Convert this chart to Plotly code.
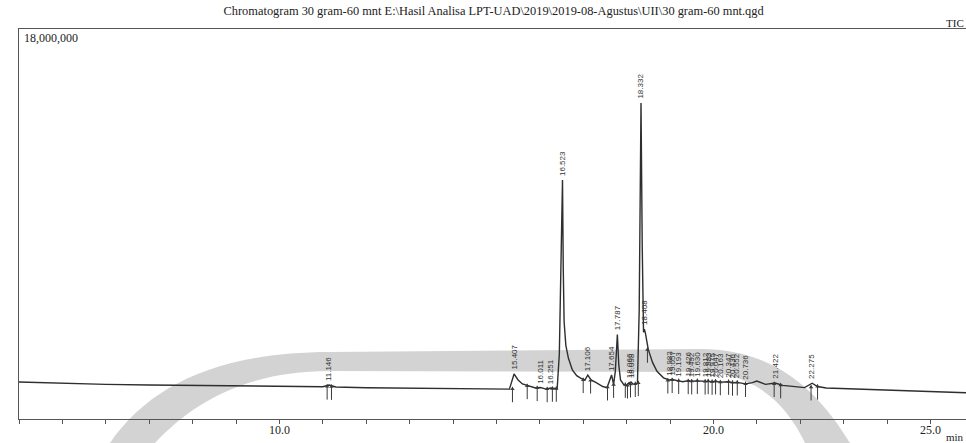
import plotly.graph_objects as go

# ---- chromatogram trace (retention time in min, intensity) ----
times = [4.0, 5.0, 6.0, 7.0, 8.0, 9.0, 10.0, 11.0, 11.146, 11.3, 12.0, 13.0, 14.0, 15.0,
         15.3, 15.407, 15.5, 15.6, 15.75, 15.9, 16.011, 16.15, 16.251, 16.4,
         16.45, 16.49, 16.523, 16.54, 16.56, 16.6, 16.66, 16.75, 16.85, 16.94, 17.04,
         17.106, 17.18, 17.3, 17.45, 17.55, 17.654, 17.7, 17.74, 17.787, 17.82, 17.86,
         17.93, 18.0, 18.066, 18.08, 18.098, 18.15, 18.25, 18.29, 18.332, 18.36, 18.38,
         18.39, 18.408, 18.43, 18.5, 18.6, 18.7, 18.85, 18.98, 19.06, 19.19, 19.3, 19.43,
         19.49, 19.63, 19.81, 19.88, 19.98, 20.05, 20.16, 20.35, 20.44, 20.55, 20.74,
         20.9, 21.0, 21.2, 21.422, 21.6, 21.9, 22.1, 22.275, 22.4, 22.6, 23.0, 24.0,
         25.0, 26.0]
intensity = [1.71e6, 1.65e6, 1.60e6, 1.57e6, 1.55e6, 1.52e6, 1.52e6, 1.49e6, 1.57e6, 1.48e6,
             1.44e6, 1.43e6, 1.41e6, 1.38e6,
             1.38e6, 2.08e6, 1.80e6, 1.62e6, 1.52e6, 1.43e6, 1.45e6, 1.38e6, 1.43e6, 1.40e6,
             3.0e6, 7.0e6, 11.03e6, 7.0e6, 4.5e6, 3.4e6, 2.8e6, 2.26e6, 2.0e6, 1.89e6, 1.80e6,
             2.03e6, 1.80e6, 1.68e6, 1.50e6, 1.45e6, 2.03e6, 1.60e6, 2.2e6, 3.9e6, 2.5e6, 1.8e6,
             1.60e6, 1.55e6, 1.70e6, 1.60e6, 1.72e6, 1.60e6, 1.65e6, 5.0e6, 14.58e6, 8.0e6, 5.2e6,
             4.0e6, 4.15e6, 4.0e6, 3.2e6, 2.6e6, 2.2e6, 1.9e6, 1.80e6, 1.82e6, 1.76e6, 1.72e6, 1.78e6,
             1.74e6, 1.76e6, 1.73e6, 1.75e6, 1.72e6, 1.74e6, 1.70e6, 1.72e6, 1.68e6, 1.69e6, 1.62e6,
             1.68e6, 1.75e6, 1.60e6, 1.66e6, 1.55e6, 1.48e6, 1.45e6, 1.65e6, 1.50e6, 1.43e6, 1.40e6, 1.33e6,
             1.27e6, 1.20e6]

# ---- peak labels ----
peak_rt = ["11.146", "15.407", "16.011", "16.251", "16.523", "17.106", "17.654", "17.787",
           "18.066", "18.098", "18.332", "18.408", "18.982", "19.057", "19.193", "19.426",
           "19.492", "19.630", "19.812", "19.883", "19.975", "20.047", "20.163", "20.347",
           "20.436", "20.552", "20.736", "21.422", "22.275"]
peak_height = [1.57e6, 2.08e6, 1.45e6, 1.43e6, 11.03e6, 2.03e6, 2.03e6, 3.9e6,
               1.70e6, 1.72e6, 14.58e6, 4.15e6, 1.80e6, 1.82e6, 1.76e6, 1.78e6,
               1.74e6, 1.76e6, 1.73e6, 1.75e6, 1.72e6, 1.74e6, 1.70e6, 1.72e6,
               1.68e6, 1.69e6, 1.62e6, 1.66e6, 1.65e6]

# ---- integration marks (peak start / end) ----
mark_t = [11.10, 11.20, 15.37, 15.71, 15.94, 16.17, 16.29, 16.38, 17.00, 17.17, 17.56, 17.70,
          17.97, 18.02, 18.09, 18.20, 18.27, 18.48, 18.95, 19.05, 19.20, 19.42, 19.50, 19.63,
          19.81, 19.88, 19.97, 20.05, 20.16, 20.35, 20.44, 20.55, 20.74, 21.40, 21.55, 22.25, 22.40]
mark_level = [1.50e6, 1.49e6, 1.38e6, 1.52e6, 1.43e6, 1.38e6, 1.40e6, 1.40e6, 1.80e6, 1.78e6,
              1.46e6, 1.58e6, 1.58e6, 1.55e6, 1.60e6, 1.62e6, 1.66e6, 3.2e6, 1.78e6, 1.80e6,
              1.76e6, 1.75e6, 1.74e6, 1.76e6, 1.73e6, 1.75e6, 1.72e6, 1.74e6, 1.70e6, 1.72e6,
              1.68e6, 1.69e6, 1.62e6, 1.62e6, 1.56e6, 1.46e6, 1.50e6]

x_tick_vals = [10.0, 20.0, 25.0]
x_tick_text = ["10.0", "20.0", "25.0"]
y_max_label = "18,000,000"
title_text = "Chromatogram 30 gram-60 mnt E:\\Hasil Analisa LPT-UAD\\2019\\2019-08-Agustus\\UII\\30 gram-60 mnt.qgd"

SERIF = "Liberation Serif, Times New Roman, serif"
LINE = "#2e2e2e"
MARK = "#3a3a3a"

# plot-area geometry (px) used only to place the background watermark band
PX0, PW, PY0, PH = 19, 947, 29, 390


def px(x, y):
    return f"{(x - PX0) / PW:.4f},{(PY0 + PH - y) / PH:.4f}"


fig = go.Figure()

# faint watermark arc behind the chart
band_path = ("M " + px(110, 443) + " C " + px(150, 385) + " " + px(220, 352) + " " + px(330, 352)
             + " L " + px(700, 349) + " C " + px(770, 349) + " " + px(815, 385) + " " + px(850, 443)
             + " L " + px(805, 443) + " C " + px(785, 400) + " " + px(750, 372) + " " + px(700, 372)
             + " L " + px(330, 371) + " C " + px(250, 371) + " " + px(195, 400) + " " + px(155, 443)
             + " Z")
fig.add_shape(type="path", xref="paper", yref="paper", path=band_path,
              fillcolor="rgba(190,190,190,0.68)", line=dict(width=0), layer="below")

fig.add_trace(go.Scatter(x=times, y=intensity, mode="lines",
                         line=dict(color=LINE, width=1.4), hoverinfo="skip",
                         showlegend=False))

# marks: stem below baseline + small arrow head
stem_y = [v - 0.25e6 for v in mark_level]
fig.add_trace(go.Scatter(x=mark_t, y=stem_y, mode="markers",
                         marker=dict(symbol="line-ns-open", size=11, color=MARK,
                                     line=dict(color=MARK, width=1)),
                         hoverinfo="skip", showlegend=False))
fig.add_trace(go.Scatter(x=mark_t, y=mark_level, mode="markers",
                         marker=dict(symbol="triangle-up", size=4, color=MARK),
                         hoverinfo="skip", showlegend=False))

for rt, h in zip(peak_rt, peak_height):
    fig.add_annotation(x=float(rt), y=h, text=rt, showarrow=False, textangle=-90,
                       xanchor="center", yanchor="bottom", yshift=2,
                       font=dict(family="Liberation Sans Narrow, Liberation Sans, sans-serif",
                                 size=8, color="#333"))

fig.add_annotation(xref="paper", yref="paper", x=0.003, y=1.0, text=y_max_label,
                   showarrow=False, xanchor="left", yanchor="top",
                   font=dict(family=SERIF, size=12, color="#222"))
fig.add_annotation(xref="paper", yref="paper", x=1.0, y=1.0, text="TIC",
                   showarrow=False, xanchor="right", yanchor="bottom", yshift=-2,
                   font=dict(family=SERIF, size=11, color="#222"))
fig.add_annotation(xref="paper", yref="paper", x=1.0, y=0, text="min",
                   showarrow=False, xanchor="right", yanchor="top", yshift=-10,
                   font=dict(family=SERIF, size=11, color="#222"))

fig.update_layout(
    width=966, height=443,
    margin=dict(l=19, r=0, t=29, b=24),
    paper_bgcolor="white", plot_bgcolor="rgba(0,0,0,0)",
    title=dict(text=title_text, x=0.511, xanchor="center", y=0.985, yanchor="top",
               font=dict(family=SERIF, size=12.4, color="#222")),
    xaxis=dict(range=[4.0, 4.0 + 947 / 43.4], showgrid=False, zeroline=False,
               showline=True, linecolor="#555", linewidth=1, mirror=True,
               tickmode="array", tickvals=x_tick_vals, ticktext=x_tick_text,
               ticks="",
               minor=dict(dtick=1.0, tick0=4.0, ticks="outside", ticklen=4, tickcolor="#555"),
               tickfont=dict(family=SERIF, size=12, color="#222")),
    yaxis=dict(range=[0, 18e6], showgrid=False, zeroline=False, showline=True,
               linecolor="#555", linewidth=1, showticklabels=False, ticks=""),
)

fig.write_html("out.html", config={"displayModeBar": False},
               post_script="document.body.style.margin='0';document.body.style.overflow='hidden';")
